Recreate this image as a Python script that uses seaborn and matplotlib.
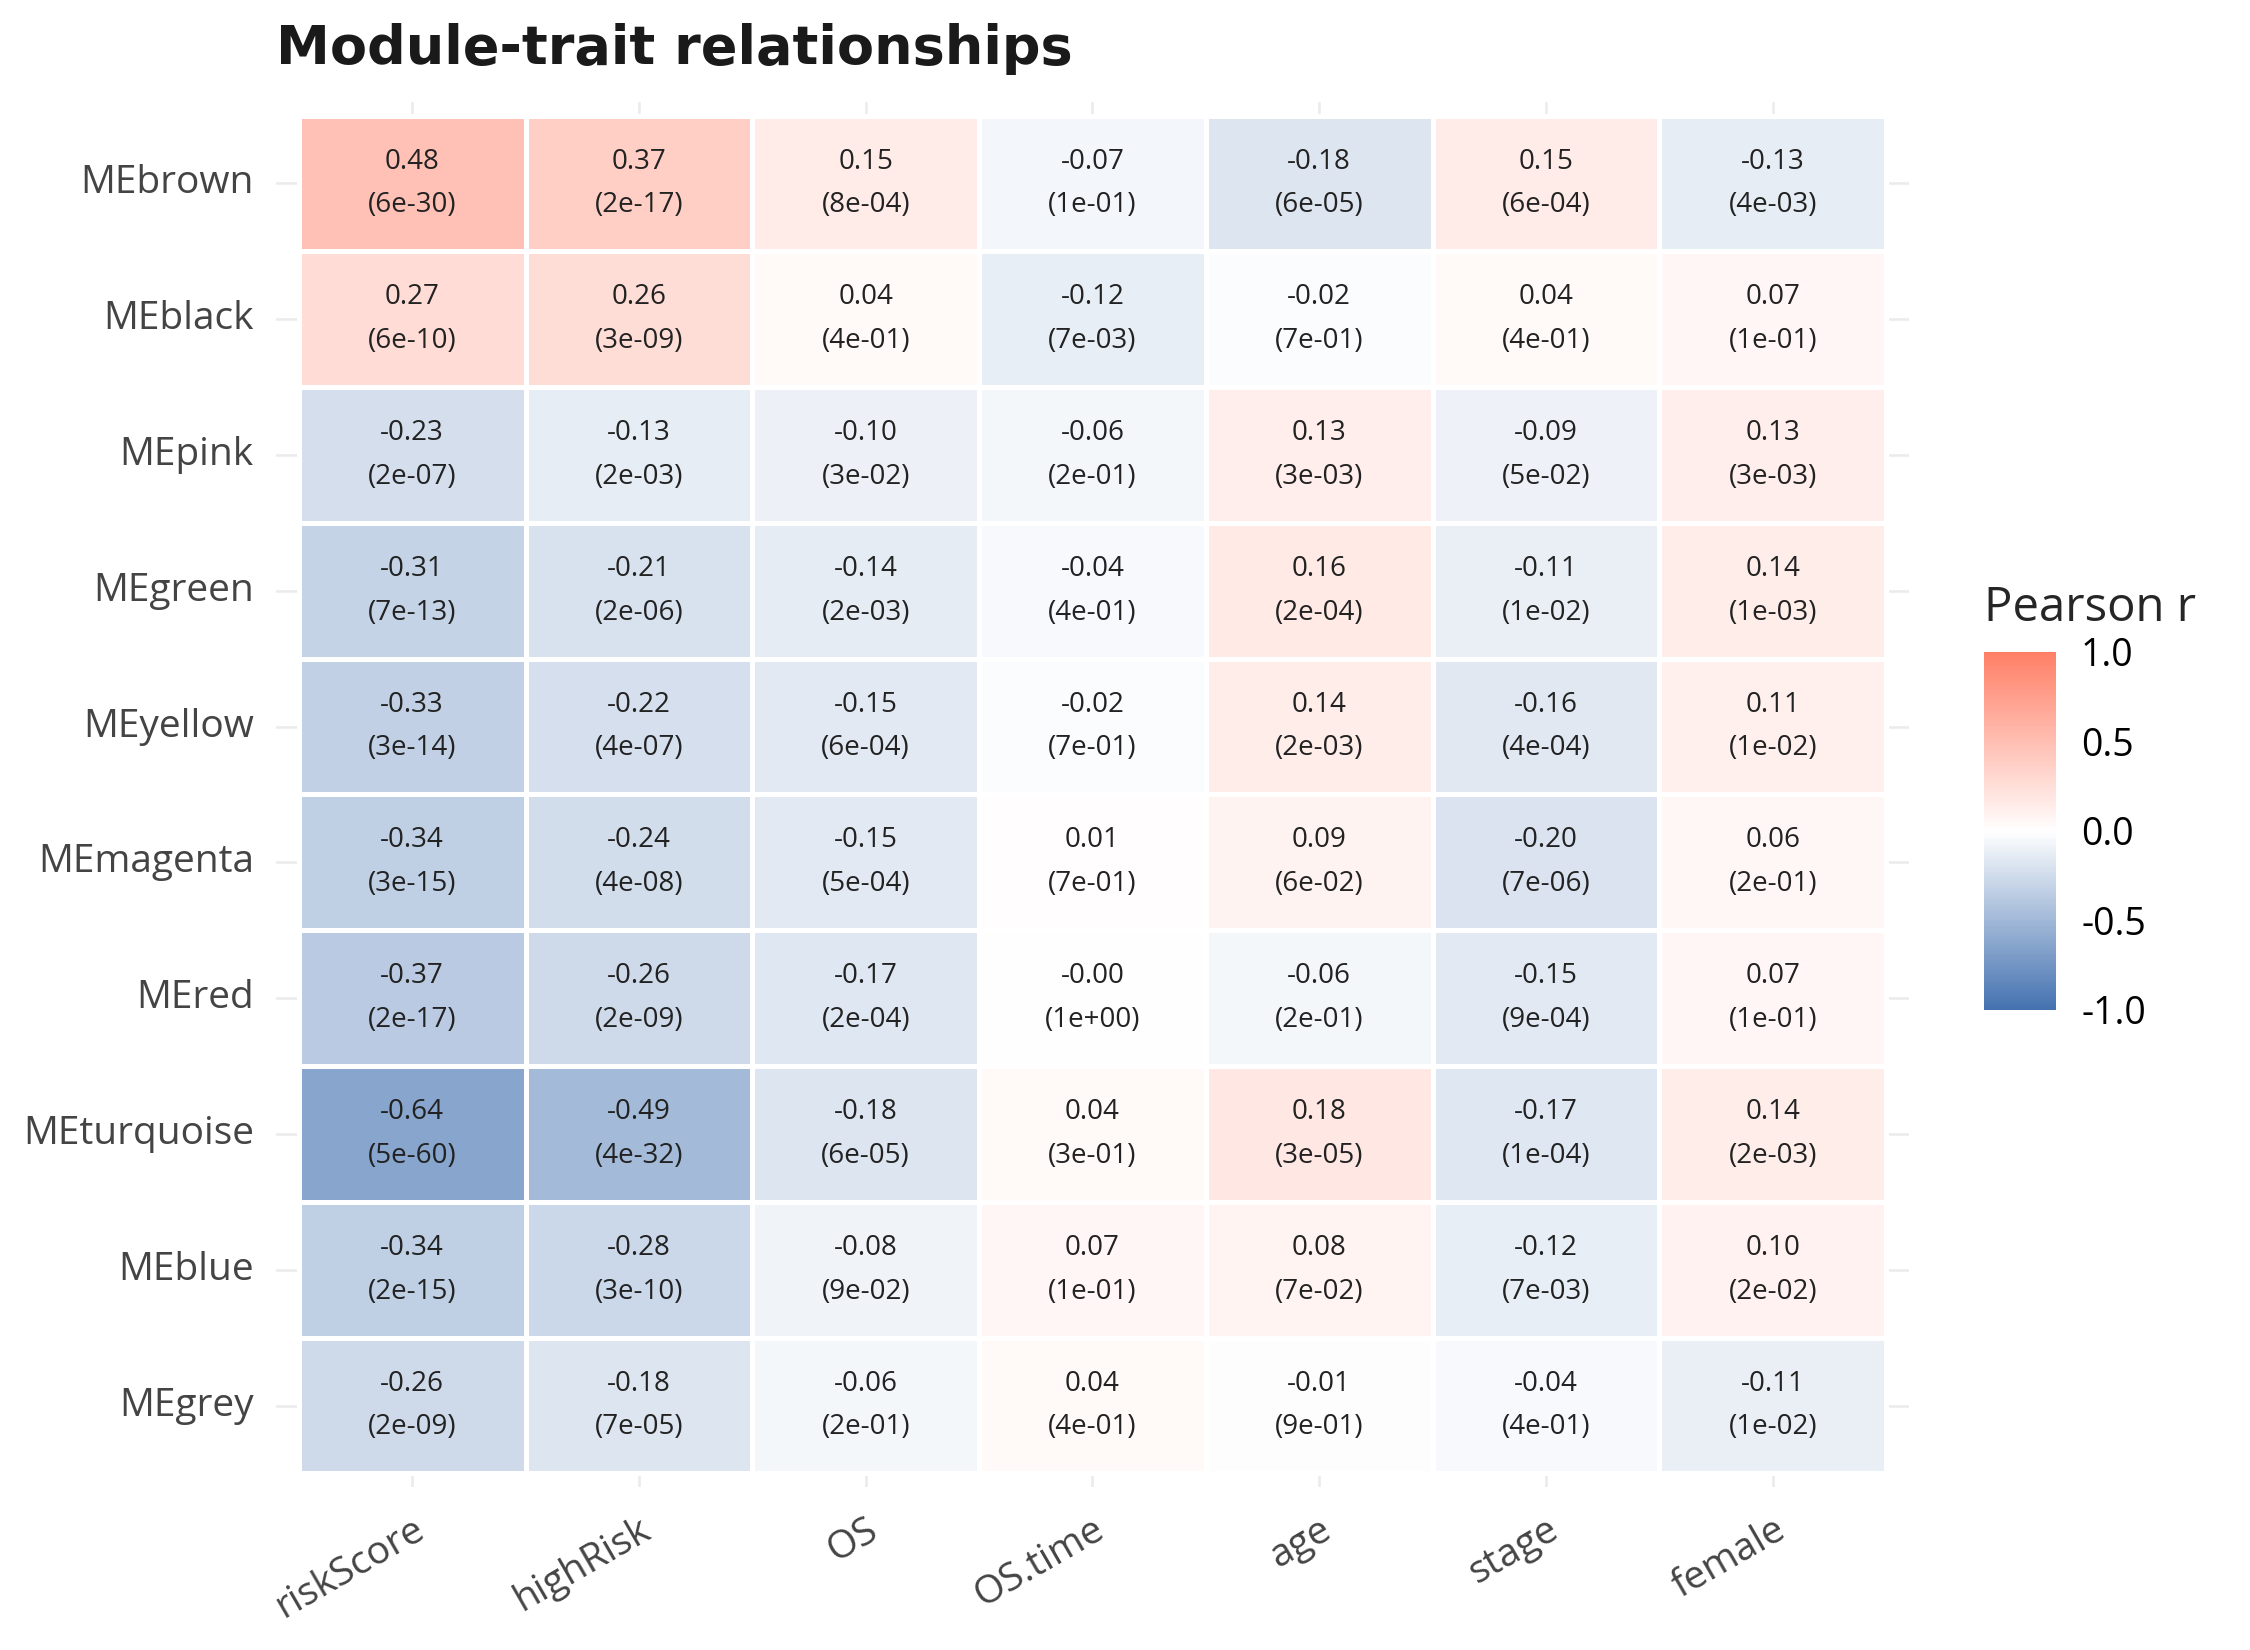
import numpy as np
import pandas as pd
import seaborn as sns
import matplotlib.pyplot as plt
from matplotlib.colors import LinearSegmentedColormap

# Module eigengenes (rows) and traits (columns)
modules = ["MEbrown", "MEblack", "MEpink", "MEgreen", "MEyellow",
           "MEmagenta", "MEred", "MEturquoise", "MEblue", "MEgrey"]
traits = ["riskScore", "highRisk", "OS", "OS.time", "age", "stage", "female"]

# Pearson r per module
r_values = [
    [0.48, 0.37, 0.15, -0.07, -0.18, 0.15, -0.13],
    [0.27, 0.26, 0.04, -0.12, -0.02, 0.04, 0.07],
    [-0.23, -0.13, -0.10, -0.06, 0.13, -0.09, 0.13],
    [-0.31, -0.21, -0.14, -0.04, 0.16, -0.11, 0.14],
    [-0.33, -0.22, -0.15, -0.02, 0.14, -0.16, 0.11],
    [-0.34, -0.24, -0.15, 0.01, 0.09, -0.20, 0.06],
    [-0.37, -0.26, -0.17, -0.001, -0.06, -0.15, 0.07],
    [-0.64, -0.49, -0.18, 0.04, 0.18, -0.17, 0.14],
    [-0.34, -0.28, -0.08, 0.07, 0.08, -0.12, 0.10],
    [-0.26, -0.18, -0.06, 0.04, -0.01, -0.04, -0.11],
]

# p-values per module
p_values = [
    [6e-30, 2e-17, 8e-04, 1e-01, 6e-05, 6e-04, 4e-03],
    [6e-10, 3e-09, 4e-01, 7e-03, 7e-01, 4e-01, 1e-01],
    [2e-07, 2e-03, 3e-02, 2e-01, 3e-03, 5e-02, 3e-03],
    [7e-13, 2e-06, 2e-03, 4e-01, 2e-04, 1e-02, 1e-03],
    [3e-14, 4e-07, 6e-04, 7e-01, 2e-03, 4e-04, 1e-02],
    [3e-15, 4e-08, 5e-04, 7e-01, 6e-02, 7e-06, 2e-01],
    [2e-17, 2e-09, 2e-04, 1e+00, 2e-01, 9e-04, 1e-01],
    [5e-60, 4e-32, 6e-05, 3e-01, 3e-05, 1e-04, 2e-03],
    [2e-15, 3e-10, 9e-02, 1e-01, 7e-02, 7e-03, 2e-02],
    [2e-09, 7e-05, 2e-01, 4e-01, 9e-01, 4e-01, 1e-02],
]

corr = pd.DataFrame(r_values, index=modules, columns=traits)
pval = pd.DataFrame(p_values, index=modules, columns=traits)
labels = corr.apply(lambda c: c.map(lambda v: f"{v:.2f}")) + "\n(" + \
    pval.apply(lambda c: c.map(lambda v: f"{v:.0e}")) + ")"

sns.set_theme(style="whitegrid")
plt.rcParams['font.family'] = ['Open Sans', 'DejaVu Sans']
plt.rcParams['axes.unicode_minus'] = False

cmap = LinearSegmentedColormap.from_list("pearson", ["#4472B0", "#FFFFFF", "#FF7F66"])

fig = plt.figure(figsize=(11.25, 8.25), dpi=200)
ax = fig.add_axes([0.1227, 0.0988, 0.7257, 0.8394])
cax = fig.add_axes([0.8818, 0.3879, 0.032, 0.2170])

sns.heatmap(corr, annot=labels.values, fmt="", cmap=cmap, vmin=-1, vmax=1,
            linewidths=1.1, linecolor="white", ax=ax, cbar_ax=cax,
            annot_kws=dict(fontsize=10, color="#222222", linespacing=1.75))

# a little room round the tiles so the grid shows at the edges
ax.set_xlim(-0.1, len(traits) + 0.1)
ax.set_ylim(len(modules) + 0.1, -0.1)
ax.grid(True, color="#ebebeb", lw=0.9)
ax.set_axisbelow(True)
for s in ax.spines.values():
    s.set_visible(False)
ax.tick_params(length=4.5, width=0.9, color="#555555", labelcolor="#444444", labelsize=14)
ax.tick_params(axis="x", pad=4)
plt.setp(ax.get_xticklabels(), rotation=30, ha="right", rotation_mode="anchor")
plt.setp(ax.get_yticklabels(), rotation=0)
ax.set_xlabel("")
ax.set_ylabel("")
ax.set_title("Module-trait relationships", loc="left", fontsize=19.5, fontweight="bold",
             family="DejaVu Sans", color="#1a1a1a", pad=13.5)

# colour bar
cax.set_yticks([-1, -0.5, 0, 0.5, 1])
cax.set_yticklabels(["-1.0", "-0.5", "0.0", "0.5", "1.0"])
cax.tick_params(axis="y", direction="in", left=True, right=True, color="white",
                length=5, width=1, labelsize=13.5, pad=9, labelcolor="black")
cax.set_title("Pearson r", loc="left", fontsize=17, pad=11)

fig.savefig("out.png", dpi=200)
